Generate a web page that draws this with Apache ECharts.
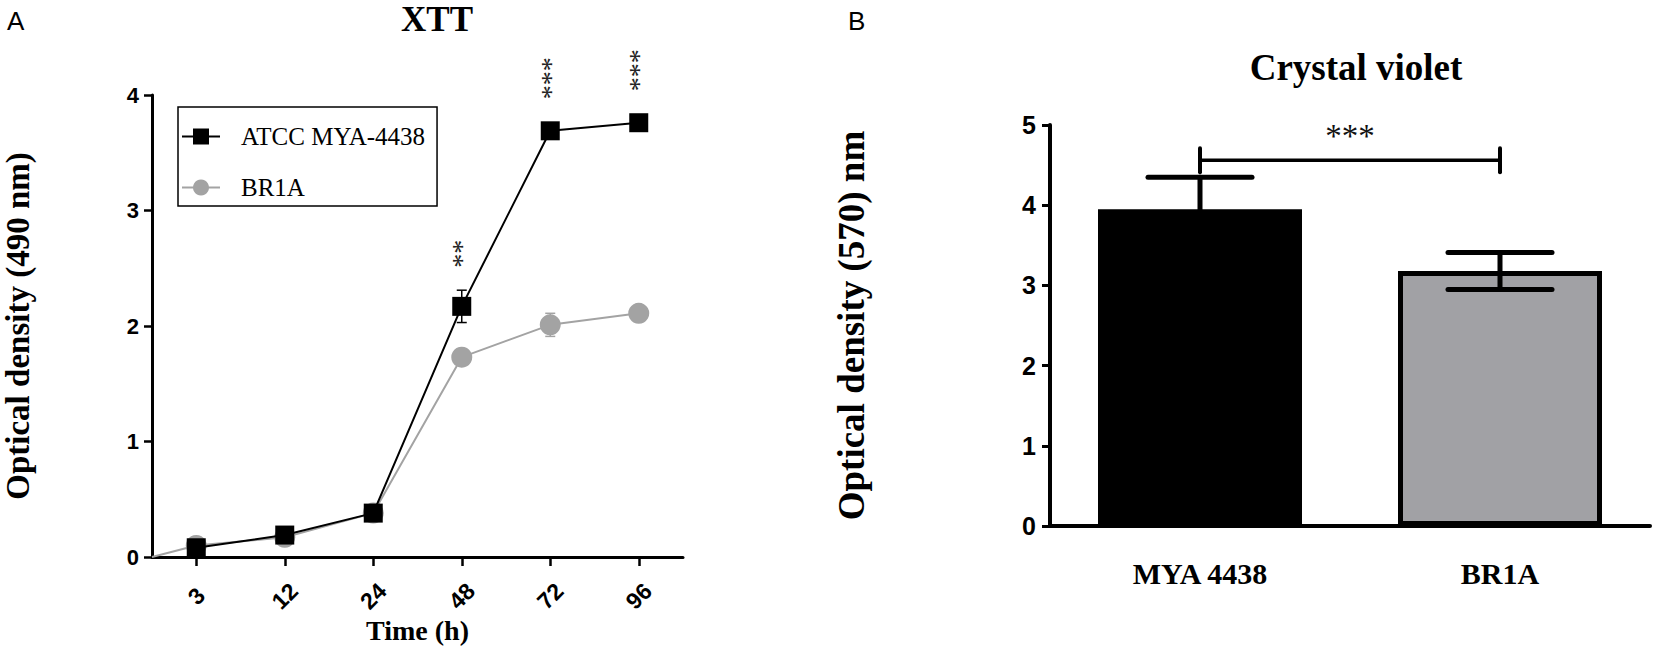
<!DOCTYPE html>
<html><head><meta charset="utf-8">
<script src="https://cdn.jsdelivr.net/npm/echarts@6/dist/echarts.min.js"></script>
<style>html,body{margin:0;padding:0;background:#fff}#c{width:1654px;height:647px}</style>
</head><body><div id="c"></div>
<script>
// ---------- Panel A data (XTT) ----------
const timeLabels = ['3', '12', '24', '48', '72', '96'];
const atccMean = [0.08, 0.19, 0.38, 2.17, 3.69, 3.76];
const atccErr  = [0.02, 0.02, 0.03, 0.14, 0.03, 0.03];
const br1aMean = [0.10, 0.17, 0.38, 1.73, 2.01, 2.11];
const br1aErr  = [0.03, 0.02, 0.03, 0.04, 0.10, 0.05];
const br1aOrigin = 0;
const atccSig = ['', '', '', '**', '***', '***'];
const yTicksA = [0, 1, 2, 3, 4];

// ---------- Panel B data (Crystal violet) ----------
const strainLabels = ['MYA 4438', 'BR1A'];
const cvMean = [3.95, 3.18];
const cvErr  = [0.40, 0.23];
const cvSigLabel = '***';
const cvSigLevel = 4.56;
const yTicksB = [0, 1, 2, 3, 4, 5];

// ---------- styles ----------
const SERIF = "'Liberation Serif', 'Times New Roman', serif";
const SANS = "'Liberation Sans', Arial, sans-serif";
const GRAY = '#a3a3a3';
const barFills = ['#000000', '#a1a1a5'];

// half-step slots so the axis starts half a category before the first time point
const slotCats = [''];
timeLabels.forEach(t => { slotCats.push(t); slotCats.push(''); });
const slotOf = i => 2 * i + 1;

const atccData = slotCats.map(() => null);
const br1aData = slotCats.map(() => null);
br1aData[0] = { value: br1aOrigin, symbol: 'none' };
timeLabels.forEach((t, i) => {
  atccData[slotOf(i)] = {
    value: atccMean[i],
    label: { show: atccSig[i] !== '', formatter: atccSig[i] }
  };
  br1aData[slotOf(i)] = br1aMean[i];
});
const atccErrData = timeLabels.map((t, i) => [slotOf(i), atccMean[i], atccErr[i]]);
const br1aErrData = timeLabels.map((t, i) => [slotOf(i), br1aMean[i], br1aErr[i]]);

function errRender(capHalf, lw, color, cap) {
  return function (params, api) {
    const x = api.value(0), m = api.value(1), e = api.value(2);
    const top = api.coord([x, m + e]);
    const bot = api.coord([x, m - e]);
    const st = { stroke: color, lineWidth: lw, lineCap: cap };
    return {
      type: 'group',
      children: [
        { type: 'line', shape: { x1: top[0], y1: top[1], x2: bot[0], y2: bot[1] }, style: st },
        { type: 'line', shape: { x1: top[0] - capHalf, y1: top[1], x2: top[0] + capHalf, y2: top[1] }, style: st },
        { type: 'line', shape: { x1: bot[0] - capHalf, y1: bot[1], x2: bot[0] + capHalf, y2: bot[1] }, style: st }
      ]
    };
  };
}

const chart = echarts.init(document.getElementById('c'), null, { renderer: 'svg' });

const option = {
  animation: false,
  backgroundColor: '#fff',
  title: [
    { text: 'XTT', left: 432, top: -3, textAlign: 'center',
      textStyle: { fontFamily: SERIF, fontWeight: 'bold', fontSize: 35, color: '#000' } },
    { text: 'Crystal violet', left: 1351, top: 44, textAlign: 'center',
      textStyle: { fontFamily: SERIF, fontWeight: 'bold', fontSize: 37, color: '#000' } },
    { text: 'A', left: 2, top: 3,
      textStyle: { fontFamily: SANS, fontWeight: 'normal', fontSize: 26, color: '#000' } },
    { text: 'B', left: 843, top: 3,
      textStyle: { fontFamily: SANS, fontWeight: 'normal', fontSize: 26, color: '#000' } }
  ],
  legend: {
    data: ['ATCC MYA-4438', 'BR1A'],
    orient: 'vertical',
    left: 178, top: 107,
    itemWidth: 38, itemHeight: 20,
    itemGap: 26,
    padding: [17, 12, 6, 3],
    borderColor: '#000', borderWidth: 1.5,
    backgroundColor: '#fff',
    textStyle: { fontFamily: SERIF, fontSize: 25, color: '#000', padding: [0, 0, 0, 16] }
  },
  grid: [
    { left: 152, right: 971, top: 95, bottom: 90, outerBoundsMode: 'none', containLabel: false },
    { left: 1050, right: 4, top: 125, bottom: 121, outerBoundsMode: 'none', containLabel: false }
  ],
  xAxis: [
    {
      gridIndex: 0, type: 'category', data: slotCats, boundaryGap: false,
      name: 'Time (h)', nameLocation: 'middle', nameGap: 59, nameMoveOverlap: false,
      nameTextStyle: { fontFamily: SERIF, fontWeight: 'bold', fontSize: 28, color: '#000' },
      axisLine: { lineStyle: { color: '#000', width: 3 } },
      axisTick: { interval: (i) => i % 2 === 1, length: 9, lineStyle: { color: '#000', width: 2.5 } },
      axisLabel: {
        interval: (i) => i % 2 === 1, rotate: 45, align: 'center', verticalAlign: 'middle',
        margin: 39, fontFamily: SANS, fontWeight: 'bold', fontSize: 23, color: '#000'
      },
      splitLine: { show: false }
    },
    {
      gridIndex: 1, type: 'category', data: strainLabels, boundaryGap: true,
      axisLine: { lineStyle: { color: '#000', width: 4 } },
      axisTick: { alignWithLabel: true, length: 14, lineStyle: { color: '#000', width: 3.5 } },
      axisLabel: { margin: 32, fontFamily: SERIF, fontWeight: 'bold', fontSize: 30, color: '#000' },
      splitLine: { show: false }
    }
  ],
  yAxis: [
    {
      gridIndex: 0, type: 'value', min: yTicksA[0], max: yTicksA[yTicksA.length - 1], interval: 1,
      name: 'Optical density (490 nm)', nameLocation: 'middle', nameGap: 118, nameRotate: 90,
      nameMoveOverlap: false,
      nameTextStyle: { fontFamily: SERIF, fontWeight: 'bold', fontSize: 33, color: '#000' },
      axisLine: { show: true, lineStyle: { color: '#000', width: 3 } },
      axisTick: { show: true, length: 8, lineStyle: { color: '#000', width: 2.5 } },
      axisLabel: { margin: 13, fontFamily: SANS, fontWeight: 'bold', fontSize: 22, color: '#000' },
      splitLine: { show: false }
    },
    {
      gridIndex: 1, type: 'value', min: yTicksB[0], max: yTicksB[yTicksB.length - 1], interval: 1,
      name: 'Optical density (570) nm', nameLocation: 'middle', nameGap: 180, nameRotate: 90,
      nameMoveOverlap: false,
      nameTextStyle: { fontFamily: SERIF, fontWeight: 'bold', fontSize: 37, color: '#000' },
      axisLine: { show: true, lineStyle: { color: '#000', width: 4 } },
      axisTick: { show: true, length: 8, lineStyle: { color: '#000', width: 3 } },
      axisLabel: { margin: 14, fontFamily: SANS, fontWeight: 'bold', fontSize: 25, color: '#000' },
      splitLine: { show: false }
    }
  ],
  series: [
    {
      type: 'custom', name: 'BR1A err', xAxisIndex: 0, yAxisIndex: 0, z: 1,
      renderItem: errRender(5, 1.5, GRAY, 'butt'), data: br1aErrData
    },
    {
      type: 'line', name: 'BR1A', xAxisIndex: 0, yAxisIndex: 0, z: 2,
      data: br1aData, connectNulls: true,
      symbol: 'circle', symbolSize: 21,
      lineStyle: { color: GRAY, width: 2 },
      itemStyle: { color: GRAY, borderWidth: 0 }
    },
    {
      type: 'custom', name: 'ATCC err', xAxisIndex: 0, yAxisIndex: 0, z: 3,
      renderItem: errRender(5, 1.5, '#000', 'butt'), data: atccErrData
    },
    {
      type: 'line', name: 'ATCC MYA-4438', xAxisIndex: 0, yAxisIndex: 0, z: 4,
      data: atccData, connectNulls: true,
      symbol: 'rect', symbolSize: 19,
      lineStyle: { color: '#000', width: 2 },
      itemStyle: { color: '#000', borderWidth: 0 },
      label: {
        show: false, position: 'top', distance: 43, rotate: 90,
        align: 'center', verticalAlign: 'middle',
        fontFamily: SERIF, fontSize: 28, color: '#222'
      }
    },
    {
      type: 'bar', name: 'Crystal violet', xAxisIndex: 1, yAxisIndex: 1, z: 2,
      barWidth: '68%',
      data: cvMean.map((v, i) => ({
        value: v,
        itemStyle: { color: barFills[i], borderColor: '#000', borderWidth: 5 }
      }))
    },
    {
      type: 'custom', name: 'CV err', xAxisIndex: 1, yAxisIndex: 1, z: 5,
      renderItem: errRender(52, 5, '#000', 'round'),
      data: cvMean.map((v, i) => [i, v, cvErr[i]])
    },
    {
      type: 'custom', name: 'CV sig', xAxisIndex: 1, yAxisIndex: 1, z: 5,
      renderItem: function (params, api) {
        const y = api.value(2);
        const p0 = api.coord([api.value(0), y]);
        const p1 = api.coord([api.value(1), y]);
        const st = { stroke: '#000', lineWidth: 4, lineCap: 'round' };
        return {
          type: 'group',
          children: [
            { type: 'line', shape: { x1: p0[0], y1: p0[1], x2: p1[0], y2: p1[1] }, style: { stroke: '#000', lineWidth: 3.5 } },
            { type: 'line', shape: { x1: p0[0], y1: p0[1] - 12, x2: p0[0], y2: p0[1] + 12 }, style: st },
            { type: 'line', shape: { x1: p1[0], y1: p1[1] - 12, x2: p1[0], y2: p1[1] + 12 }, style: st },
            { type: 'text', x: (p0[0] + p1[0]) / 2, y: p0[1] - 24,
              style: { text: cvSigLabel, align: 'center', verticalAlign: 'middle',
                       font: '33px ' + SERIF, fill: '#111' } }
          ]
        };
      },
      data: [[0, 1, cvSigLevel]]
    }
  ]
};
chart.setOption(option);
</script>
</body></html>
